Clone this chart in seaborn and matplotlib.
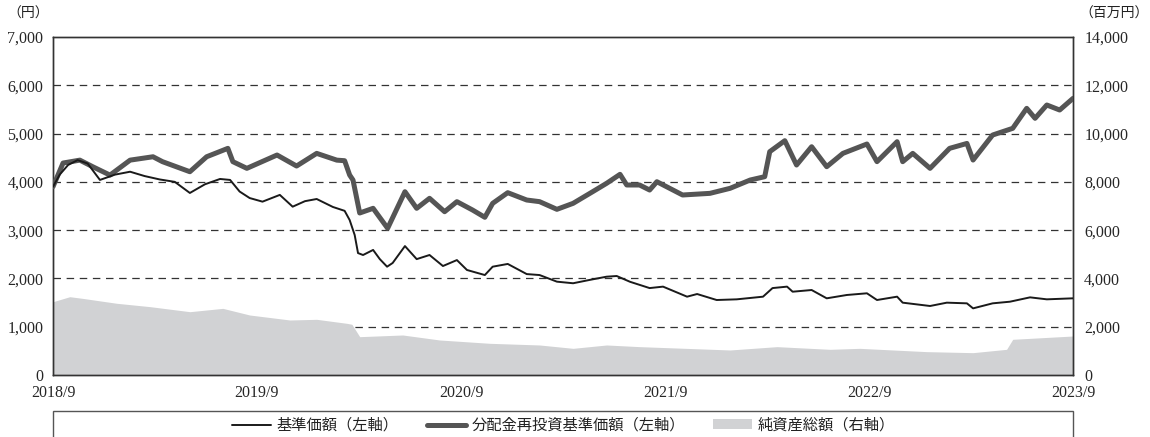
import matplotlib
matplotlib.use("Agg")
import matplotlib.pyplot as plt
from matplotlib.lines import Line2D
from matplotlib.patches import Patch, Rectangle
import seaborn as sns
import pandas as pd

# ---------------- data ----------------
nav_dates = ["2018-09-01", "2018-09-13", "2018-09-28", "2018-10-15", "2018-11-02", "2018-11-24",
             "2018-12-21", "2019-01-17", "2019-02-12", "2019-03-11", "2019-04-07", "2019-05-04",
             "2019-05-31", "2019-06-27", "2019-07-15", "2019-08-01", "2019-08-19", "2019-09-11",
             "2019-10-12", "2019-11-04", "2019-11-26", "2019-12-17", "2020-01-15", "2020-02-05",
             "2020-02-14", "2020-02-23", "2020-02-29", "2020-03-09", "2020-03-27", "2020-04-08",
             "2020-04-21", "2020-05-01", "2020-05-23", "2020-06-13", "2020-07-06", "2020-07-30",
             "2020-08-24", "2020-09-11", "2020-10-13", "2020-10-27", "2020-11-23", "2020-12-27",
             "2021-01-19", "2021-02-19", "2021-03-20", "2021-04-19", "2021-05-19", "2021-06-06",
             "2021-06-30", "2021-08-04", "2021-08-28", "2021-10-10", "2021-10-28", "2021-12-02",
             "2022-01-07", "2022-02-23", "2022-03-12", "2022-04-07", "2022-04-17", "2022-05-21",
             "2022-06-17", "2022-07-23", "2022-08-28", "2022-09-15", "2022-10-21", "2022-10-31",
             "2022-12-19", "2023-01-18", "2023-02-23", "2023-03-06", "2023-04-10", "2023-05-11",
             "2023-06-16", "2023-07-16", "2023-09-01"]
nav_values = [3900, 4150, 4350, 4450, 4380, 4040,
              4150, 4210, 4120, 4050, 4000, 3770,
              3950, 4060, 4040, 3800, 3665, 3590,
              3730, 3486, 3600, 3645, 3480, 3400,
              3210, 2900, 2525, 2485, 2590, 2400,
              2243, 2320, 2670, 2400, 2485, 2257,
              2380, 2175, 2070, 2243, 2300, 2090,
              2070, 1933, 1900, 1970, 2036, 2050,
              1930, 1800, 1830, 1622, 1677, 1553,
              1567, 1622, 1800, 1830, 1725, 1760,
              1588, 1657, 1692, 1553, 1622, 1498,
              1429, 1498, 1484, 1380, 1484, 1518,
              1608, 1567, 1588]

reinv_dates = ["2018-09-01", "2018-09-19", "2018-10-19", "2018-11-11", "2018-12-12", "2019-01-17",
               "2019-02-27", "2019-03-16", "2019-05-04", "2019-06-03", "2019-07-11", "2019-07-20",
               "2019-08-14", "2019-10-07", "2019-11-11", "2019-12-17", "2020-01-22", "2020-02-05",
               "2020-02-14", "2020-02-20", "2020-03-03", "2020-03-27", "2020-04-22", "2020-05-23",
               "2020-06-13", "2020-07-06", "2020-08-02", "2020-08-24", "2020-09-21", "2020-10-13",
               "2020-10-27", "2020-11-23", "2020-12-27", "2021-01-19", "2021-02-19", "2021-03-20",
               "2021-04-24", "2021-05-19", "2021-06-12", "2021-06-24", "2021-07-17", "2021-08-04",
               "2021-08-17", "2021-10-02", "2021-11-20", "2021-12-26", "2022-01-31", "2022-02-26",
               "2022-03-07", "2022-04-03", "2022-04-24", "2022-05-21", "2022-06-17", "2022-07-16",
               "2022-08-28", "2022-09-15", "2022-10-21", "2022-10-31", "2022-11-18", "2022-12-19",
               "2023-01-23", "2023-02-23", "2023-03-06", "2023-04-10", "2023-05-16", "2023-06-10",
               "2023-06-25", "2023-07-16", "2023-08-08", "2023-09-01"]
reinv_values = [3900, 4390, 4450, 4314, 4140, 4450,
                4520, 4418, 4210, 4520, 4694, 4418,
                4280, 4556, 4328, 4590, 4450, 4438,
                4142, 4038, 3355, 3452, 3038, 3796,
                3452, 3659, 3382, 3590, 3417, 3266,
                3555, 3776, 3624, 3590, 3431, 3555,
                3796, 3970, 4156, 3935, 3935, 3831,
                4003, 3728, 3762, 3866, 4038, 4107,
                4625, 4853, 4349, 4728, 4314, 4590,
                4784, 4418, 4832, 4418, 4590, 4280,
                4694, 4796, 4452, 4970, 5109, 5523,
                5316, 5592, 5488, 5730]

asset_dates = ["2018-09-01", "2018-10-01", "2018-10-24", "2018-12-24", "2019-02-22", "2019-05-04",
               "2019-07-02", "2019-08-19", "2019-10-30", "2019-12-17", "2020-02-09", "2020-02-18",
               "2020-03-03", "2020-05-19", "2020-07-24", "2020-10-22", "2021-01-19", "2021-03-20",
               "2021-05-19", "2021-07-17", "2021-12-26", "2022-03-20", "2022-06-23", "2022-08-15",
               "2022-12-13", "2023-03-06", "2023-05-05", "2023-05-16", "2023-09-01"]
asset_values = [3036, 3243, 3174, 2970, 2830, 2622,
                2760, 2485, 2278, 2306, 2140, 2100,
                1587, 1657, 1450, 1312, 1243, 1104,
                1243, 1174, 1036, 1174, 1063, 1104,
                967, 925, 1063, 1478, 1615]

xtick_dates = ["2018-09-01", "2019-09-01", "2020-09-01", "2021-09-01", "2022-09-01", "2023-09-01"]
xtick_labels = ["2018/9", "2019/9", "2020/9", "2021/9", "2022/9", "2023/9"]
left_ticks = [0, 1000, 2000, 3000, 4000, 5000, 6000, 7000]
right_ticks = [0, 2000, 4000, 6000, 8000, 10000, 12000, 14000]
legend_labels = ["基準価額（左軸）", "分配金再投資基準価額（左軸）", "純資産総額（右軸）"]

nav_df = pd.DataFrame({"date": pd.to_datetime(nav_dates), "value": nav_values})
reinv_df = pd.DataFrame({"date": pd.to_datetime(reinv_dates), "value": reinv_values})
asset_df = pd.DataFrame({"date": pd.to_datetime(asset_dates), "value": asset_values})

# ---------------- style ----------------
sns.set_style("white")
plt.rcParams["font.family"] = ["Liberation Serif", "Noto Sans CJK JP", "DejaVu Sans"]
jp_font = ["Noto Sans CJK JP", "DejaVu Sans"]

C_NAV = "#1a1a1a"
C_REINV = "#555555"
C_ASSET = "#d1d2d4"

fig = plt.figure(figsize=(11.5, 4.37), dpi=100)
ax = fig.add_axes([0.0461, 0.1419, 0.8870, 0.7734])
ax2 = ax.twinx()
ax.set_zorder(ax2.get_zorder() + 1)
ax.patch.set_visible(False)

# area (right axis)
ax2.fill_between(asset_df["date"], 0, asset_df["value"], color=C_ASSET, lw=0, zorder=2)
ax2.set_ylim(0, 14000)
ax2.set_yticks(right_ticks)
ax2.set_yticklabels([f"{v:,}" for v in right_ticks], fontsize=11.5)
ax2.tick_params(axis="y", length=0, pad=8)
ax2.set_axisbelow(True)
ax2.yaxis.grid(True, linestyle=(0, (6, 4.5)), color="#333333", linewidth=0.9)
glines = ax2.yaxis.get_gridlines()
glines[0].set_visible(False)
glines[-1].set_visible(False)

# lines (left axis)
sns.lineplot(data=reinv_df, x="date", y="value", ax=ax, color=C_REINV, linewidth=3.6, zorder=3)
sns.lineplot(data=nav_df, x="date", y="value", ax=ax, color=C_NAV, linewidth=1.4, zorder=4)

ax.set_ylim(0, 7000)
ax.set_yticks(left_ticks)
ax.set_yticklabels([f"{v:,}" for v in left_ticks], fontsize=11.5)
ax.tick_params(axis="y", length=0, pad=7)

xt = pd.to_datetime(xtick_dates)
ax.set_xlim(xt[0], xt[-1])
ax.set_xticks(xt)
ax.set_xticklabels(xtick_labels, fontsize=11.5)
ax.tick_params(axis="x", direction="in", length=5, width=0.8, color="#222222", pad=7)
ax.set_xlabel("")
ax.set_ylabel("")
ax2.set_ylabel("")

for a in (ax, ax2):
    for s in a.spines.values():
        s.set_visible(True)
        s.set_color("#333333")
        s.set_linewidth(1.0)

# unit labels
fig.text(28 / 1150, 0.968, "（円）", fontsize=10, family=jp_font, va="center", ha="center", color="#222222")
fig.text(1114 / 1150, 0.968, "（百万円）", fontsize=10, family=jp_font, va="center", ha="center", color="#222222")

# legend box (top, left, right edges visible; bottom outside figure)
box = Rectangle((0.0461, -0.2), 0.8870, 0.2595, transform=fig.transFigure,
                fill=False, edgecolor="#555555", linewidth=1.0)
fig.patches.append(box)

handles = [Line2D([], [], color=C_NAV, lw=1.4),
           Line2D([], [], color=C_REINV, lw=3.6),
           Patch(facecolor=C_ASSET, edgecolor="none")]
leg = fig.legend(handles, legend_labels, loc="center", ncol=3,
                 bbox_to_anchor=(563.5 / 1150, 0.027), frameon=False,
                 prop={"family": jp_font, "size": 11}, handlelength=2.55,
                 handleheight=0.6, handletextpad=0.35, columnspacing=1.85)
for t in leg.get_texts():
    t.set_color("#222222")

fig.savefig("out.png", dpi=100)
